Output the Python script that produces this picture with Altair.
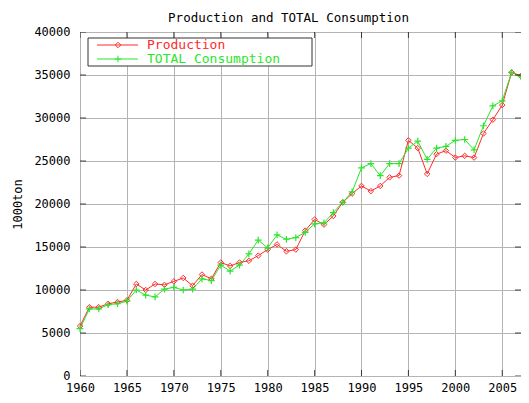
import altair as alt
import pandas as pd

years = list(range(1960, 2008))
production = [5800, 8000, 8000, 8400, 8600, 8800, 10700, 10000, 10700, 10600,
              11000, 11400, 10500, 11800, 11300, 13200, 12800, 13200, 13400, 14000,
              14700, 15300, 14500, 14700, 16900, 18200, 17600, 18600, 20200, 21200,
              22100, 21500, 22100, 23100, 23300, 27400, 26500, 23500, 25800, 26200,
              25400, 25600, 25400, 28200, 29800, 31500, 35300, 34900]
consumption = [5500, 7800, 7800, 8300, 8400, 8700, 10000, 9400, 9200, 10100,
               10300, 10000, 10100, 11300, 11100, 12900, 12200, 12900, 14200, 15800,
               14900, 16400, 15900, 16100, 16700, 17700, 17800, 19000, 20200, 21400,
               24200, 24700, 23300, 24700, 24700, 26500, 27300, 25200, 26500, 26700,
               27400, 27500, 26300, 29100, 31400, 32000, 35300, 34800]
series_names = ["Production", "TOTAL Consumption"]
colors = ["#ff2a2a", "#2ae62a"]
x_ticks = list(range(1960, 2006, 5))
y_ticks = list(range(0, 40001, 5000))

df = pd.DataFrame({
    "year": years * 2,
    "value": production + consumption,
    "series": [series_names[0]] * len(years) + [series_names[1]] * len(years),
})
legend_df = pd.DataFrame({"series": series_names})
xt_df = pd.DataFrame({"year": x_ticks})
yt_df = pd.DataFrame({"value": y_ticks})

W, H = 441, 344
FONT = "DejaVu Sans Mono"
GRID = "#b4b4b4"

xscale = alt.Scale(domain=[1960, 2007], nice=False, zero=False)
yscale = alt.Scale(domain=[0, 40000], nice=False)
cscale = alt.Scale(domain=series_names, range=colors)

x_axis = alt.Axis(
    values=x_ticks, format="d", title=None, tickSize=0, labelPadding=6,
    grid=True, gridColor=GRID, gridOpacity=1, domain=False,
    labelFont=FONT, labelFontSize=12, labelColor="#000", labelFlush=False)
y_axis = alt.Axis(
    values=y_ticks, format="d", title="1000ton", tickSize=0, labelPadding=10,
    labelOffset=-1,
    grid=True, gridColor=GRID, gridOpacity=1, domain=False,
    labelFont=FONT, labelFontSize=12, labelColor="#000",
    titleFont=FONT, titleFontSize=12, titleFontWeight="normal", titleColor="#000",
    titlePadding=9)
x_enc = alt.X("year:Q", scale=xscale, axis=x_axis)
y_enc = alt.Y("value:Q", scale=yscale, axis=y_axis)
c_enc = alt.Color("series:N", scale=cscale, legend=None)

base = alt.Chart(df)
lines = base.mark_line(strokeWidth=1).encode(x=x_enc, y=y_enc, color=c_enc)
prod_pts = base.transform_filter(alt.datum.series == series_names[0]).mark_point(
    shape="diamond", filled=False, size=30, strokeWidth=1, opacity=1
).encode(x=x_enc, y=y_enc, color=c_enc)
plus = "M-1,0L1,0M0,-1L0,1"
cons_pts = base.transform_filter(alt.datum.series == series_names[1]).mark_point(
    shape=plus, filled=False, size=45, strokeWidth=1.2, opacity=1
).encode(x=x_enc, y=y_enc, color=c_enc)

# inward tick marks (gnuplot style), clipped to the plot
tick_kw = dict(clip=True, size=12, thickness=1, color="#000")
ytick_l = alt.Chart(yt_df).mark_tick(**tick_kw).encode(y=y_enc, x=alt.value(0))
ytick_r = alt.Chart(yt_df).mark_tick(**tick_kw).encode(y=y_enc, x=alt.value(W))
xtick_b = alt.Chart(xt_df).mark_tick(**tick_kw).encode(x=x_enc, y=alt.value(H))
xtick_t = alt.Chart(xt_df).mark_tick(**tick_kw).encode(x=x_enc, y=alt.value(0))

# legend box
lg_box = alt.Chart(legend_df.head(1)).mark_rect(fill="white", stroke="#333", strokeWidth=1).encode(
    x=alt.value(8), x2=alt.value(232), y=alt.value(6), y2=alt.value(34))
row_y = {series_names[0]: 13, series_names[1]: 27}
lg_layers = []
for i, s in enumerate(series_names):
    one = alt.Chart(legend_df).transform_filter(alt.datum.series == s)
    yv = row_y[s]
    lg_layers.append(one.mark_rule(strokeWidth=1).encode(
        x=alt.value(17), x2=alt.value(58), y=alt.value(yv), color=c_enc))
    lg_layers.append(one.mark_point(
        shape="diamond" if i == 0 else plus, filled=False,
        size=30 if i == 0 else 45, strokeWidth=1, opacity=1).encode(
        x=alt.value(38), y=alt.value(yv), color=c_enc))
    lg_layers.append(one.mark_text(align="left", baseline="middle", font=FONT, fontSize=13).encode(
        x=alt.value(67), y=alt.value(yv), text="series:N", color=c_enc))

chart = alt.layer(lines, prod_pts, cons_pts, ytick_l, ytick_r, xtick_b, xtick_t,
                  lg_box, *lg_layers).properties(
    width=W, height=H,
    title=alt.TitleParams("Production and TOTAL Consumption", font=FONT, fontSize=12.5,
                          fontWeight="normal", color="#000", anchor="middle", dx=-12, offset=1),
    autosize=alt.AutoSizeParams(type="none"),
    padding={"left": 72, "top": 24, "right": 0, "bottom": 19},
).configure_view(stroke="#000", strokeWidth=1).configure(background="white")

chart.save("out.html", embed_options={"renderer": "svg", "actions": False})
